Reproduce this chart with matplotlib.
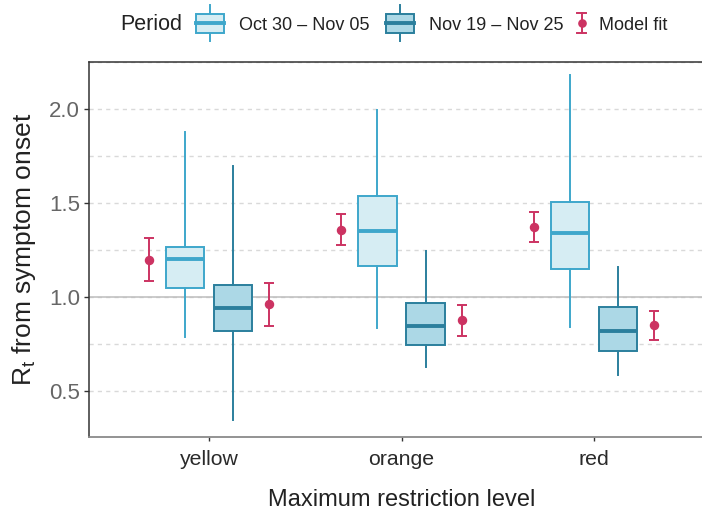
import numpy as np
import matplotlib.pyplot as plt
from matplotlib.legend_handler import HandlerBase
from matplotlib.patches import Patch, Rectangle
from matplotlib.lines import Line2D
from matplotlib.ticker import MultipleLocator

plt.rcParams['font.family'] = ['Liberation Sans', 'DejaVu Sans']
plt.rcParams['mathtext.fontset'] = 'custom'
plt.rcParams['mathtext.rm'] = 'Liberation Sans'
plt.rcParams['mathtext.it'] = 'Liberation Sans:italic'

# Data
levels = ['yellow', 'orange', 'red']
periods = ['Oct 30 \u2013 Nov 05', 'Nov 19 \u2013 Nov 25']

# Box stats per period (median, quartiles, whisker ends)
oct_med = [1.204, 1.349, 1.339]
oct_q1 = [1.050, 1.165, 1.149]
oct_q3 = [1.268, 1.539, 1.507]
oct_lo = [0.789, 0.837, 0.839]
oct_hi = [1.879, 1.995, 2.181]

nov_med = [0.940, 0.844, 0.819]
nov_q1 = [0.821, 0.743, 0.713]
nov_q3 = [1.064, 0.970, 0.945]
nov_lo = [0.346, 0.626, 0.585]
nov_hi = [1.697, 1.245, 1.161]

# Model fit (point estimate and interval)
fit_oct = [1.199, 1.356, 1.374]
fit_oct_lo = [1.085, 1.277, 1.294]
fit_oct_hi = [1.312, 1.440, 1.452]
fit_nov = [0.961, 0.876, 0.849]
fit_nov_lo = [0.847, 0.794, 0.771]
fit_nov_hi = [1.073, 0.957, 0.927]

fill_cols = ['#d6edf3', '#acd8e6']
edge_cols = ['#3ea7cb', '#2b7f9d']
fit_col = '#cc3362'

W, H = 702, 511
fig = plt.figure(figsize=(W / 100, H / 100), dpi=100)
# panel runs a little past the right edge, as in the reference
ax = fig.add_axes([89 / W, (H - 437) / H, (714 - 89) / W, (437 - 62) / H])

x = np.arange(1, len(levels) + 1)
box_off, fit_off = 0.125, 0.3125

stats_sets = [
    (oct_med, oct_q1, oct_q3, oct_lo, oct_hi),
    (nov_med, nov_q1, nov_q3, nov_lo, nov_hi),
]
for k, (med, q1, q3, lo, hi) in enumerate(stats_sets):
    stats = [dict(med=med[i], q1=q1[i], q3=q3[i], whislo=lo[i], whishi=hi[i])
             for i in range(len(levels))]
    pos = x + (k * 2 - 1) * box_off
    ax.bxp(stats, positions=pos, widths=0.2, patch_artist=True,
           showfliers=False, showcaps=False, manage_ticks=False,
           boxprops=dict(facecolor=fill_cols[k], edgecolor=edge_cols[k], linewidth=1.4),
           medianprops=dict(color=edge_cols[k], linewidth=2.8, solid_capstyle='butt'),
           whiskerprops=dict(color=edge_cols[k], linewidth=1.4), zorder=3)

for k, (m, lo, hi) in enumerate([(fit_oct, fit_oct_lo, fit_oct_hi),
                                 (fit_nov, fit_nov_lo, fit_nov_hi)]):
    m, lo, hi = np.array(m), np.array(lo), np.array(hi)
    pos = x + (k * 2 - 1) * fit_off
    ax.errorbar(pos, m, yerr=[m - lo, hi - m], fmt='o', color=fit_col,
                ms=5.8, elinewidth=1.4, capsize=3.3, capthick=1.4, zorder=4)

ax.axhline(1.0, color='#bdbdbd', lw=1.1, zorder=1)
ax.set_xlim(0.375, 3.625)
ax.set_ylim(0.255, 2.25)
ax.set_xticks(x)
ax.set_xticklabels(levels)
ax.yaxis.set_major_locator(MultipleLocator(0.5))
ax.yaxis.set_minor_locator(MultipleLocator(0.25))
ax.set_yticks([0.5, 1.0, 1.5, 2.0])
ax.set_yticklabels(['0.5', '1.0', '1.5', '2.0'])
ax.grid(axis='y', which='both', color='#d9d9d9', lw=1.0, linestyle=(0, (3, 3)), zorder=0)
ax.set_axisbelow(True)

for s in ['left', 'top']:
    ax.spines[s].set_color('#333333')
    ax.spines[s].set_linewidth(1.1)
ax.spines['bottom'].set_color('#8a8a8a')
ax.spines['bottom'].set_linewidth(1.3)
ax.spines['right'].set_visible(False)
ax.tick_params(axis='y', which='major', length=3.6, width=1.0, color='#333333',
               labelsize=16, labelcolor='#666666', pad=3)
ax.tick_params(axis='y', which='minor', length=0)
ax.tick_params(axis='x', length=3.0, width=1.0, color='#333333',
               labelsize=15.3, labelcolor='#2a2a2a', pad=6)

ax.set_xlabel('Maximum restriction level', fontsize=17, color='#222222', labelpad=15)
ax.set_ylabel(r'$\mathrm{R_t}$ from symptom onset', fontsize=19, color='#222222', labelpad=8)


class BoxKey(HandlerBase):
    def create_artists(self, legend, orig, xd, yd, width, height, fontsize, trans):
        x0, yc = -xd, -yd + height / 2
        bh, wh = 13.5, 26.0
        fc, ec = orig.get_facecolor(), orig.get_edgecolor()
        rect = Rectangle((x0, yc - bh / 2), width, bh, facecolor=fc, edgecolor=ec,
                         lw=1.4, transform=trans)
        med = Line2D([x0, x0 + width], [yc, yc], color=ec, lw=2.8, transform=trans)
        wl = Line2D([x0 + width / 2] * 2, [yc - wh / 2, yc - bh / 2], color=ec, lw=1.4, transform=trans)
        wu = Line2D([x0 + width / 2] * 2, [yc + bh / 2, yc + wh / 2], color=ec, lw=1.4, transform=trans)
        return [wl, wu, rect, med]


class FitKey(HandlerBase):
    def create_artists(self, legend, orig, xd, yd, width, height, fontsize, trans):
        xc, yc = -xd + width / 2, -yd + height / 2
        eh, cw = 14.0, 7.0
        c = orig.get_color()
        v = Line2D([xc, xc], [yc - eh / 2, yc + eh / 2], color=c, lw=1.4, transform=trans)
        t = Line2D([xc - cw / 2, xc + cw / 2], [yc + eh / 2] * 2, color=c, lw=1.4, transform=trans)
        b = Line2D([xc - cw / 2, xc + cw / 2], [yc - eh / 2] * 2, color=c, lw=1.4, transform=trans)
        p = Line2D([xc], [yc], marker='o', ms=5.2, color=c, lw=0, transform=trans)
        return [v, t, b, p]


legend_y = 1 - 25 / H
h_oct = Patch(facecolor=fill_cols[0], edgecolor=edge_cols[0])
h_nov = Patch(facecolor=fill_cols[1], edgecolor=edge_cols[1])
h_fit = Line2D([], [], color=fit_col)
fig.text(120 / W, legend_y, 'Period', fontsize=15.5, color='#222222', va='center', ha='left')
leg1 = fig.legend([h_oct, h_nov], periods, ncol=2,
                  handler_map={Patch: BoxKey()},
                  loc='center left', bbox_to_anchor=(196 / W, legend_y), frameon=False,
                  fontsize=13, borderpad=0, borderaxespad=0, handlelength=1.55,
                  handletextpad=0.83, columnspacing=0.89, labelcolor='#222222')
fig.legend([h_fit], ['Model fit'], handler_map={Line2D: FitKey()},
           loc='center left', bbox_to_anchor=(572.5 / W, legend_y), frameon=False,
           fontsize=13, borderpad=0, borderaxespad=0, handlelength=1.0,
           handletextpad=0.47, labelcolor='#222222')

fig.savefig('out.png', dpi=100)
